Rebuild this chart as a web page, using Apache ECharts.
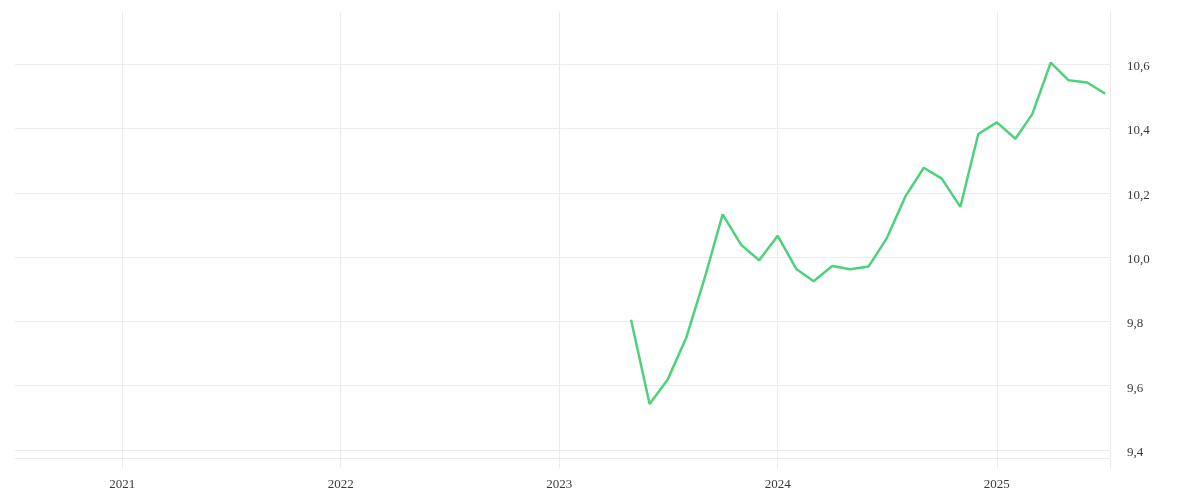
<!DOCTYPE html>
<html>
<head>
<meta charset="utf-8">
<script src="https://cdn.jsdelivr.net/npm/echarts@6/dist/echarts.min.js"></script>
<style>
html,body{margin:0;padding:0;background:#fff}
#chart{width:1200px;height:500px}
</style>
</head>
<body>
<div id="chart"></div>
<script>
// monthly values
var months = ['2023-05','2023-06','2023-07','2023-08','2023-09','2023-10',
	'2023-11','2023-12','2024-01','2024-02','2024-03','2024-04','2024-05',
	'2024-06','2024-07','2024-08','2024-09','2024-10','2024-11','2024-12',
	'2025-01','2025-02','2025-03','2025-04','2025-05','2025-06','2025-07'];
var values = [9.805,9.543,9.618,9.748,9.935,10.133,
	10.038,9.99,10.066,9.963,9.925,9.972,9.962,
	9.971,10.058,10.188,10.278,10.244,10.156,10.383,
	10.419,10.368,10.444,10.605,10.55,10.543,10.508];
var yearTicks = [2021,2022,2023,2024,2025];
var yTicks = [9.4,9.6,9.8,10.0,10.2,10.4,10.6];

var chartObj = echarts.init(document.getElementById('chart'));

function toStamp(ym){
	var p = ym.split('-');
	return Date.UTC(+p[0], +p[1] - 1, 1);
}
var seriesData = [];
for (var i = 0; i < months.length; i++) {
	seriesData.push([toStamp(months[i]), values[i]]);
}
var yearStamps = yearTicks.map(function(y){ return Date.UTC(y, 0, 1); });
// extra faint line just under the lowest label
var yLines = [9.375].concat(yTicks);

var gridColor = '#ebebeb';
var labelFont = {fontFamily: 'Liberation Serif', fontSize: 13, color: '#3a3a3a'};

var option = {
	animation: false,
	grid: {left: 15, right: 90, top: 12, bottom: 32, containLabel: false},
	xAxis: {
		type: 'value',
		min: Date.UTC(2020, 6, 6),
		max: Date.UTC(2025, 6, 9),
		axisLine: {show: false},
		axisTick: {show: false, customValues: yearStamps},
		axisLabel: {
			customValues: yearStamps,
			margin: 10,
			fontFamily: labelFont.fontFamily,
			fontSize: labelFont.fontSize,
			color: labelFont.color,
			formatter: function(v){ return String(new Date(v).getUTCFullYear()); }
		},
		splitLine: {show: true, lineStyle: {color: gridColor, width: 1}}
	},
	yAxis: {
		type: 'value',
		position: 'right',
		min: 9.34375,
		max: 10.7625,
		axisLine: {show: true, lineStyle: {color: gridColor, width: 1}},
		axisTick: {show: false, customValues: yLines},
		axisLabel: {
			customValues: yTicks,
			margin: 17,
			fontFamily: labelFont.fontFamily,
			fontSize: labelFont.fontSize,
			color: labelFont.color,
			formatter: function(v){ return '{v|' + v.toFixed(1).replace('.', ',') + '}'; },
			rich: {
				// nudge labels a little below their grid line, as in the picture
				v: {
					fontFamily: labelFont.fontFamily,
					fontSize: labelFont.fontSize,
					color: labelFont.color,
					padding: [5, 0, 0, 0]
				}
			}
		},
		splitLine: {show: true, lineStyle: {color: gridColor, width: 1}}
	},
	series: [{
		type: 'line',
		data: seriesData,
		showSymbol: false,
		lineStyle: {color: '#4cd27b', width: 2.5},
		itemStyle: {color: '#4cd27b'}
	}]
};
chartObj.setOption(option);
</script>
</body>
</html>
